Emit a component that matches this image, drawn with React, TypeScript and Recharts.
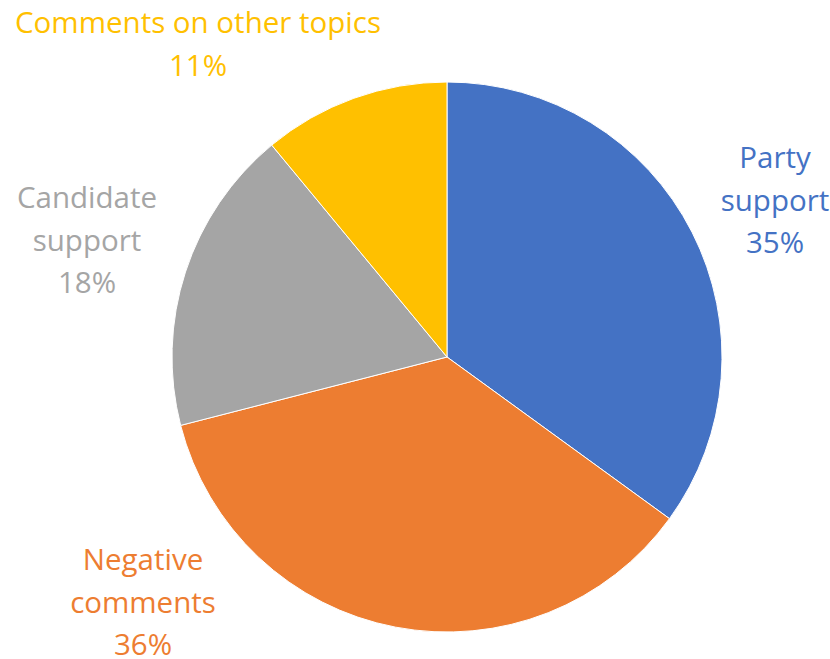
import React from "react";
import { PieChart, Pie, Cell } from "recharts";

const categories = ["Party support", "Negative comments", "Candidate support", "Comments on other topics"];
const shares = [35, 36, 18, 11];
const labelLines = [["Party", "support"], ["Negative", "comments"], ["Candidate", "support"], ["Comments on other topics"]];

const colors = ["#4472C4", "#ED7D31", "#A5A5A5", "#FFC000"];
// label anchor (first baseline) relative to pie centre
const labelAnchors = [
  [328, -189],
  [-304, 213],
  [-360, -149],
  [-249, -324],
];
const LINE_H = 42.5;

const data = categories.map((name, i) => ({ name, value: shares[i] }));

const renderLabel = (props: any) => {
  const { cx, cy, index, value } = props;
  const [dx, dy] = labelAnchors[index];
  const x = cx + dx;
  const y0 = cy + dy;
  const lines = [...labelLines[index], `${value}%`];
  return (
    <text
      key={`lbl-${index}`}
      x={x}
      y={y0}
      textAnchor="middle"
      fill={colors[index]}
      style={{ fontFamily: "'Open Sans', sans-serif", fontSize: 29.5 }}
    >
      {lines.map((t, k) => (
        <tspan key={k} x={x} y={y0 + k * LINE_H}>
          {t}
        </tspan>
      ))}
    </text>
  );
};

export default function App() {
  return (
    <div style={{ position: "absolute", left: 0, top: 0, width: 830, height: 659, background: "#fff" }}>
      <PieChart width={830} height={659} margin={{ top: 0, right: 0, bottom: 0, left: 0 }}>
        <Pie
          data={data}
          dataKey="value"
          nameKey="name"
          cx={447}
          cy={357}
          outerRadius={275}
          startAngle={90}
          endAngle={-270}
          stroke="#ffffff"
          strokeWidth={1}
          label={renderLabel}
          labelLine={false}
          isAnimationActive={false}
        >
          {data.map((d, i) => (
            <Cell key={d.name} fill={colors[i]} />
          ))}
        </Pie>
      </PieChart>
    </div>
  );
}
